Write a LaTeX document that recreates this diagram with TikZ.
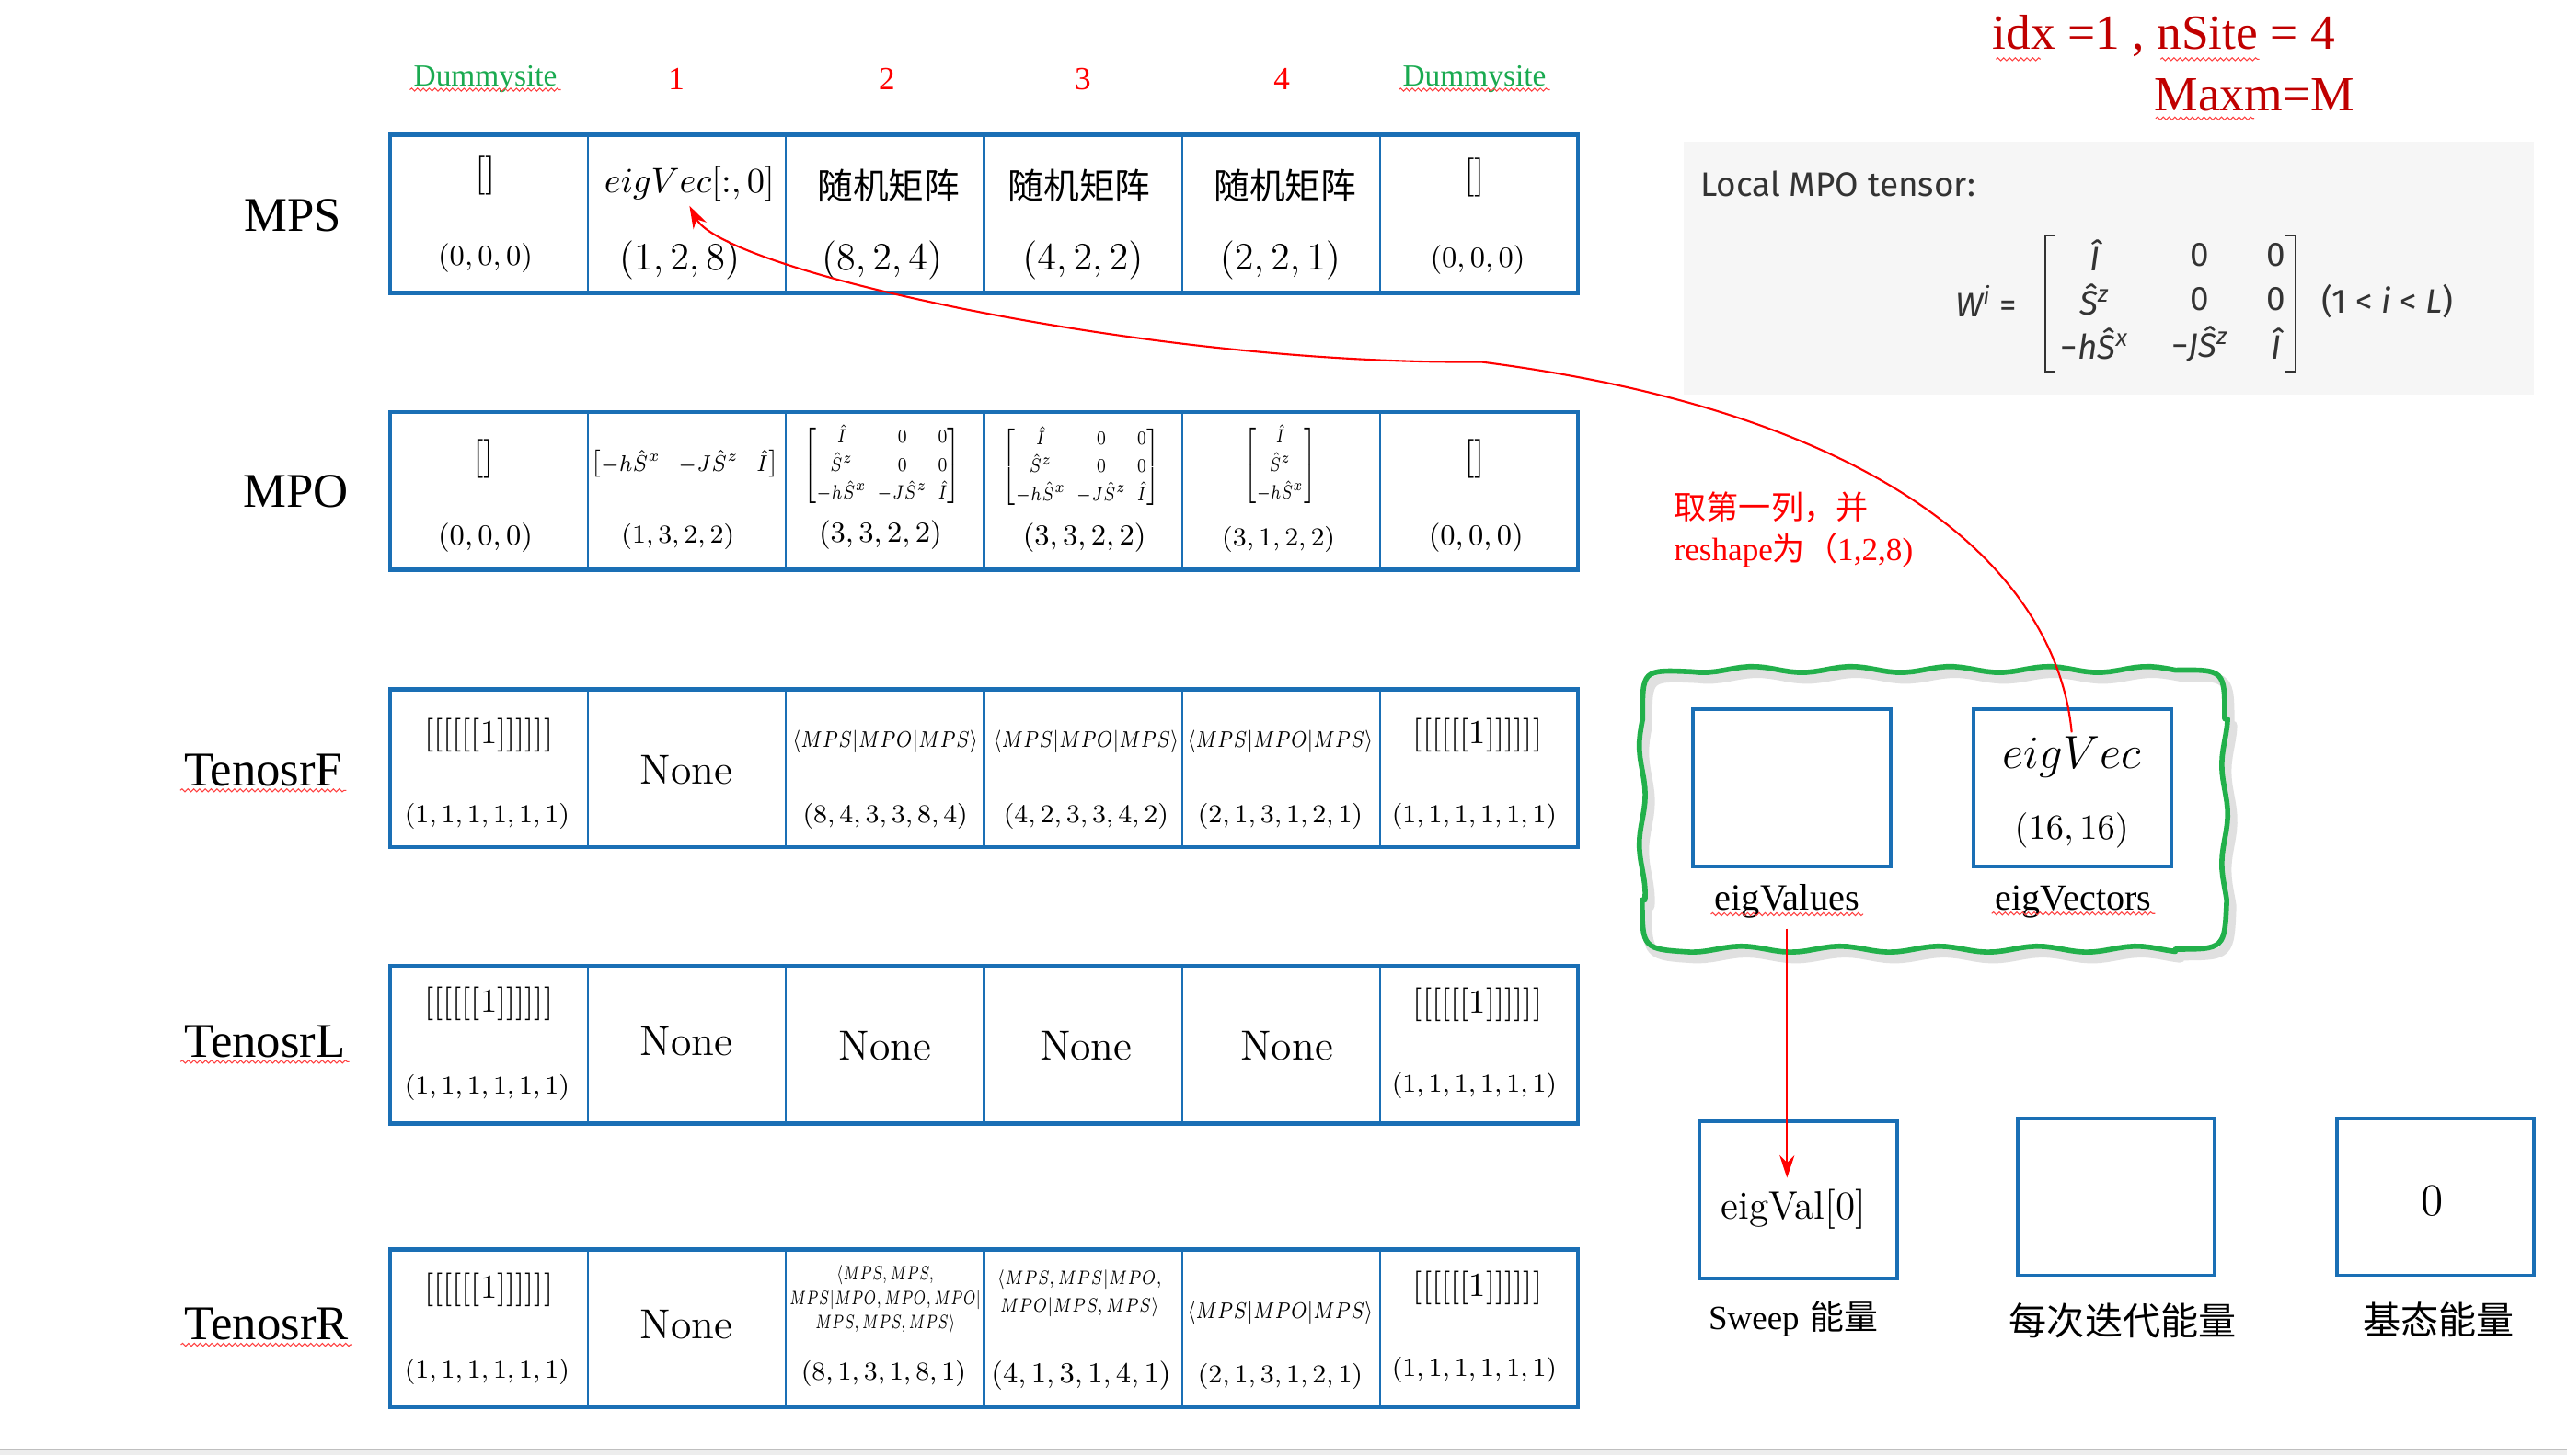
\documentclass[tikz,border=0pt]{standalone}
\usepackage{amsmath}
\usepackage{graphicx}
\usepackage{fontspec}
\newfontfamily\tnr{Liberation Serif}
\newfontfamily\cjk{Noto Sans CJK SC}
\newfontfamily\fira{Fira Sans}
\usetikzlibrary{arrows.meta,decorations.pathmorphing}
\definecolor{tblue}{HTML}{1A6FB5}
\definecolor{dred}{HTML}{C00000}
\definecolor{gsite}{HTML}{1AAA50}
\definecolor{gwave}{HTML}{22B04B}
\definecolor{panel}{HTML}{F6F6F6}
\definecolor{ink}{HTML}{333333}
\newcommand\fsz[1]{\fontsize{#1}{#1}\selectfont}
\newcommand\mpsbra{$\langle MPS|MPO|MPS\rangle$}
\newcommand\mpomat{$\begin{bmatrix}\hat{I}&0&0\\ \hat{S}^z&0&0\\ -h\hat{S}^x&-J\hat{S}^z&\hat{I}\end{bmatrix}$}
\tikzset{
  cell/.style={draw=tblue, line width=0.6pt, minimum width=61.2pt, minimum height=48.85pt, inner sep=0pt, outer sep=0pt},
  ebox/.style={draw=tblue, line width=1.1pt, minimum width=61.1pt, minimum height=48.6pt, inner sep=0pt},
  t/.style={inner sep=1pt},
  rowlab/.style={inner sep=1pt, font=\tnr\fsz{15}},
  sitehdr/.style={inner sep=1pt, font=\tnr\fsz{9.5}, text=gsite},
  numhdr/.style={inner sep=1pt, font=\tnr\fsz{10}, text=red},
  squig/.style={draw=red!75, line width=0.3pt, decorate, decoration={snake, amplitude=0.45pt, segment length=1.8pt}},
  redarrow/.style={draw=red, line width=0.6pt, -{Stealth[length=7pt,width=4.6pt]}},
  fml/.style={inner sep=0.5pt, font=\fira\itshape\fsz{10.5}, text=ink},
}
\begin{document}
\begin{tikzpicture}[x=0.0178846cm, y=-0.0178846cm]
\useasboundingbox (0,0) rectangle (1560,884.6);
% bottom strip
\fill[black!7] (0,881) rectangle (1560,884.6);
\draw[black!25, line width=0.6pt] (0,881) -- (1560,881);

% headers
\node[sitehdr] (h0) at (295,48) {Dummysite};
\node[numhdr] (h1) at (411,48) {1};
\node[numhdr] (h2) at (539,48) {2};
\node[numhdr] (h3) at (658,48) {3};
\node[numhdr] (h4) at (779,48) {4};
\node[sitehdr] (h5) at (896,48) {Dummysite};
\draw[squig] ([yshift=-1.2pt]h0.base west) -- ([yshift=-1.2pt]h0.base east);
\draw[squig] ([yshift=-1.2pt]h5.base west) -- ([yshift=-1.2pt]h5.base east);

% row labels
\node[rowlab] (lmps) at (178,131) {MPS};
\node[rowlab] (lmpo) at (180,299) {MPO};
\node[rowlab] (lF) at (160,468) {TenosrF};
\node[rowlab] (lL) at (161,633) {TenosrL};
\node[rowlab] (lR) at (162,805) {TenosrR};
\foreach \n in {lF,lL,lR}
  \draw[squig] ([yshift=-1.5pt]\n.base west) -- ([yshift=-1.5pt]\n.base east);

% cells
\foreach \i in {0,...,5} {
  \node[cell] (mps\i) at ({297.2+120.33*\i},130) {};
  \node[cell] (mpo\i) at ({297.2+120.33*\i},298.5) {};
  \node[cell] (tf\i) at ({297.2+120.33*\i},467) {};
  \node[cell] (tl\i) at ({297.2+120.33*\i},635) {};
  \node[cell] (tr\i) at ({297.2+120.33*\i},807.5) {};
}
\foreach \r in {mps,mpo,tf,tl,tr}
  \draw[tblue, line width=1.3pt] (\r0.north west) rectangle (\r5.south east);

% MPS row
\node[t] (mpsT0) at (295,107) {\fsz{12}[]};
\node[t] (mpsB0) at (295,157) {\fsz{9.3}$(0,0,0)$};
\node[t] (mpsT1) at (419,112) {\fsz{11}$eigVec[{:},0]$};
\node[t] (mpsB1) at (413,158) {\fsz{12}$(1,2,8)$};
\node[t] (mpsT2) at (540,113) {\cjk\fsz{11}随机矩阵};
\node[t] (mpsB2) at (536,158) {\fsz{12}$(8,2,4)$};
\node[t] (mpsT3) at (656,113) {\cjk\fsz{11}随机矩阵};
\node[t] (mpsB3) at (658,158) {\fsz{12.5}$(4,2,2)$};
\node[t] (mpsT4) at (781,113) {\cjk\fsz{11}随机矩阵};
\node[t] (mpsB4) at (778,158) {\fsz{12}$(2,2,1)$};
\node[t] (mpsT5) at (896,108) {\fsz{12}[]};
\node[t] (mpsB5) at (898,158) {\fsz{9.3}$(0,0,0)$};

% MPO row
\node[t] (mpoT0) at (294,279) {\fsz{12}[]};
\node[t] (mpoB0) at (295,327) {\fsz{9.3}$(0,0,0)$};
\node[t] (mpoT1) at (416,282) {\scalebox{0.9}[1]{\fsz{7}\setlength\arraycolsep{3pt}$\begin{bmatrix}-h\hat{S}^x & -J\hat{S}^z & \hat{I}\end{bmatrix}$}};
\node[t] (mpoB1) at (412,326) {\fsz{8.3}$(1,3,2,2)$};
\node[t] (mpoT2) at (536,283) {\scalebox{0.8}[1]{\fontsize{6.5}{8.6}\selectfont\setlength\arraycolsep{2pt}\mpomat}};
\node[t] (mpoB2) at (535,325) {\fsz{9}$(3,3,2,2)$};
\node[t] (mpoT3) at (657,284) {\scalebox{0.8}[1]{\fontsize{6.5}{8.6}\selectfont\setlength\arraycolsep{2pt}\mpomat}};
\node[t] (mpoB3) at (659,327) {\fsz{8.7}$(3,3,2,2)$};
\node[t] (mpoT4) at (778,283) {\scalebox{0.75}[1]{\fontsize{6.5}{8.6}\selectfont$\begin{bmatrix}\hat{I}\\ \hat{S}^z\\ -h\hat{S}^x\end{bmatrix}$}};
\node[t] (mpoB4) at (777,328) {\fsz{8.5}$(3,1,2,2)$};
\node[t] (mpoT5) at (896,279) {\fsz{12}[]};
\node[t] (mpoB5) at (897,327) {\fsz{9.3}$(0,0,0)$};

% TenosrF row
\node[t] (tfT0) at (297,447) {\fsz{10.4}[[[[[[1]]]]]]};
\node[t] (tfB0) at (296,496) {\fsz{8.5}$(1,1,1,1,1,1)$};
\node[t] (tfM1) at (417,468) {\fsz{13}None};
\node[t] (tfT2) at (538,451) {\scalebox{0.8}[1]{\fsz{6.9}\mpsbra}};
\node[t] (tfB2) at (538,496) {\fsz{8.5}$(8,4,3,3,8,4)$};
\node[t] (tfT3) at (660,451) {\scalebox{0.8}[1]{\fsz{6.9}\mpsbra}};
\node[t] (tfB3) at (660,496) {\fsz{8.3}$(4,2,3,3,4,2)$};
\node[t] (tfT4) at (778,451) {\scalebox{0.8}[1]{\fsz{6.9}\mpsbra}};
\node[t] (tfB4) at (778,496) {\fsz{7.6}$(2,1,3,1,2,1)$};
\node[t] (tfT5) at (898,447) {\fsz{10.4}[[[[[[1]]]]]]};
\node[t] (tfB5) at (896,496) {\fsz{8.5}$(1,1,1,1,1,1)$};

% TenosrL row
\node[t] (tlT0) at (297,610) {\fsz{10.4}[[[[[[1]]]]]]};
\node[t] (tlB0) at (296,661) {\fsz{8.5}$(1,1,1,1,1,1)$};
\node[t] (tlM1) at (417,633) {\fsz{13}None};
\node[t] (tlM2) at (538,636) {\fsz{13}None};
\node[t] (tlM3) at (660,636) {\fsz{13}None};
\node[t] (tlM4) at (782,636) {\fsz{13}None};
\node[t] (tlT5) at (898,611) {\fsz{10.4}[[[[[[1]]]]]]};
\node[t] (tlB5) at (896,660) {\fsz{8.5}$(1,1,1,1,1,1)$};

% TenosrR row
\node[t] (trT0) at (297,784) {\fsz{10.4}[[[[[[1]]]]]]};
\node[t] (trB0) at (296,834) {\fsz{8.5}$(1,1,1,1,1,1)$};
\node[t] (trM1) at (417,805) {\fsz{13}None};
\node[t] (trT2) at (538,790) {\scalebox{0.68}[1]{\fontsize{5.6}{7.6}\selectfont\begin{tabular}{@{}c@{}}$\langle MPS,MPS,$\\ $MPS|MPO,MPO,MPO|$\\ $MPS,MPS,MPS\rangle$\end{tabular}}};
\node[t] (trB2) at (537,835) {\fsz{8.5}$(8,1,3,1,8,1)$};
\node[t] (trT3) at (656,786) {\scalebox{0.77}[1]{\fontsize{6.2}{8.6}\selectfont\begin{tabular}{@{}c@{}}$\langle MPS,MPS|MPO,$\\ $MPO|MPS,MPS\rangle$\end{tabular}}};
\node[t] (trB3) at (657,836) {\fsz{8.7}$(4,1,3,1,4,1)$};
\node[t] (trT4) at (778,798) {\scalebox{0.8}[1]{\fsz{6.9}\mpsbra}};
\node[t] (trB4) at (778,837) {\fsz{7.6}$(2,1,3,1,2,1)$};
\node[t] (trT5) at (898,783) {\fsz{10.4}[[[[[[1]]]]]]};
\node[t] (trB5) at (896,833) {\fsz{8.5}$(1,1,1,1,1,1)$};

% title
\node[t, text=dred, font=\tnr\fsz{15.2}] (title1) at (1315,22) {idx =1 , nSite = 4};
\node[t, text=dred, font=\tnr\fsz{15.2}] (title2) at (1370,58) {Maxm=M};
\draw[squig] (1213,36) -- (1240,36);
\draw[squig] (1313,36) -- (1373,36);
\draw[squig] (1310,72) -- (1370,72);

% local MPO panel
\fill[panel] (1023,86) rectangle (1540,240);
\node[anchor=west, inner sep=0pt, font=\fira\fsz{10.5}, text=ink] (lmpot) at (1033,112) {Local MPO tensor:};
\node[fml] (wlhs) at (1207,183) {W\textsuperscript{i} {\upshape =}};
\node[fml] (w11) at (1273,155) {Î};
\node[fml] (w12) at (1337,155) {\upshape 0};
\node[fml] (w13) at (1383,155) {\upshape 0};
\node[fml] (w21) at (1273,182) {Ŝ\textsuperscript{z}};
\node[fml] (w22) at (1337,182) {\upshape 0};
\node[fml] (w23) at (1383,182) {\upshape 0};
\node[fml] (w31) at (1273,209) {{\upshape −}hŜ\textsuperscript{x}};
\node[fml] (w32) at (1337,209) {{\upshape −}JŜ\textsuperscript{z}};
\node[fml] (w33) at (1383,209) {Î};
\draw[ink, line width=0.6pt] (1249,143) -- (1243,143) -- (1243,226) -- (1249,226);
\draw[ink, line width=0.6pt] (1389,143) -- (1395,143) -- (1395,226) -- (1389,226);
\node[fml] (wcond) at (1451,183) {{\upshape(1 <} i {\upshape<} L{\upshape)}};

% red note
\node[anchor=west, inner sep=0pt, text=red, font=\fsz{10}, align=left] (note) at (1017,322) {{\cjk 取第一列，并}\\[3pt]{\tnr reshape}{\cjk 为（}{\tnr 1,2,8)}};

% green wavy group
\def\gpath{plot[domain=1028:1322, samples=60] (\x,{407+1.8*sin(6*\x)}) .. controls (1352,407) .. (1352,437)
  -- plot[domain=437:547, samples=25] ({1352+1.8*sin(6*\x)},\x) .. controls (1352,577) .. (1322,577)
  -- plot[domain=1322:1028, samples=60] (\x,{577+1.8*sin(6*\x+40)}) .. controls (998,577) .. (998,547)
  -- plot[domain=547:437, samples=25] ({998+1.8*sin(6*\x+70)},\x) .. controls (998,407) .. (1028,{407+1.8*sin(6*1028)}) -- cycle}
\draw[black!40, line width=3pt, opacity=0.3, line join=round, transform canvas={shift={(1.5pt,-2pt)}}] \gpath;
\draw[gwave, line width=1.6pt, line join=round] \gpath;

\node[ebox] (evals) at (1089,479) {};
\node[ebox] (evecs) at (1259.5,479) {};
\node[t] (evectxt) at (1259,460) {\fsz{13.4}$eigVec$};
\node[t] (evecdim) at (1259,505) {\fsz{11}$(16,16)$};
\node[t, font=\tnr\fsz{11.5}] (evlab) at (1086,548) {eigValues};
\node[t, font=\tnr\fsz{11.4}] (eveclab) at (1260,548) {eigVectors};
\draw[squig] ([yshift=-1.2pt]evlab.base west) -- ([yshift=-1.2pt]evlab.base east);
\draw[squig] ([yshift=-1.2pt]eveclab.base west) -- ([yshift=-1.2pt]eveclab.base east);

% energy boxes
\node[ebox] (sweepbox) at (1093,729.5) {};
\node[ebox] (iterbox) at (1286,727.5) {};
\node[ebox] (gsbox) at (1480,727.5) {};
\node[t] (eigval0) at (1090,735) {\fsz{12.3}eigVal[0]};
\node[t] (gszero) at (1478,730) {\fsz{14}0};
\node[t] (sweeplab) at (1090,802) {\fsz{10.5}{\tnr Sweep} {\cjk 能量}};
\node[t] (iterlab) at (1290,803) {\cjk\fsz{11.7}每次迭代能量};
\node[t] (gslab) at (1482,802) {\cjk\fsz{11.7}基态能量};

% arrows
\coordinate (evtip) at (1086,716);
\draw[redarrow] ([yshift=-2pt]evlab.south) -- (evtip);
\draw[redarrow] (evectxt.north) .. controls (1250,350) and (1150,252) .. (900,220) .. controls (700,222) and (440,165) .. (mpsT1.south);
\end{tikzpicture}
\end{document}
